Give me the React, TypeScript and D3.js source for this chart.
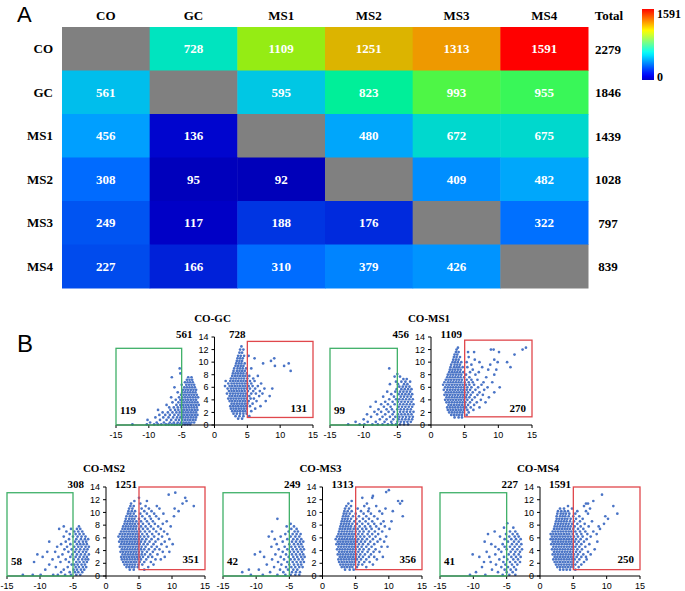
import React from "react";
import * as d3 from "d3";

// ---------- Heatmap data ----------
const GROUPS = ["CO", "GC", "MS1", "MS2", "MS3", "MS4"];
const MATRIX: (number | null)[][] = [
  [null, 728, 1109, 1251, 1313, 1591],
  [561, null, 595, 823, 993, 955],
  [456, 136, null, 480, 672, 675],
  [308, 95, 92, null, 409, 482],
  [249, 117, 188, 176, null, 322],
  [227, 166, 310, 379, 426, null],
];
const TOTALS = [2279, 1846, 1439, 1028, 797, 839];
const COLOR_MIN = 0;
const COLOR_MAX = 1591;
const COLOR_STOPS = [0, 130, 200, 300, 460, 580, 730, 830, 970, 1110, 1250, 1320, 1591];
const COLOR_RANGE = ["#000090", "#0000cc", "#0040e6", "#0068ff", "#00a0ff", "#00c4e8", "#00e4be", "#00f096", "#40f850", "#96ec14", "#dcb400", "#f09600", "#ff0000"];

// ---------- Volcano panels ----------
const PANEL_TITLES = ["CO-GC", "CO-MS1", "CO-MS2", "CO-MS3", "CO-MS4"];
const DOWN_TOTAL = [561, 456, 308, 249, 227];
const UP_TOTAL = [728, 1109, 1251, 1313, 1591];
const DOWN_SIG = [119, 99, 58, 42, 41];
const UP_SIG = [131, 270, 351, 356, 250];
const GREEN_TOP = [12.2, 12.2, 13.1, 13.1, 13.1];
const RED_BOTTOM = [1.2, 1.3, 1.0, 1.0, 1.0];
const RED_TOP = [13.3, 13.5, 14.0, 14.0, 14.0];
const X_TICKS = [-15, -10, -5, 0, 5, 10, 15];
const Y_TICKS = [0, 2, 4, 6, 8, 10, 12, 14];

type Row = [number, number[]];

const GC_DOWN: Row[] = [
  [0.1, [-12.5, -10.3, -9.2, -8.6, -8.1, -7.4, -7.0, -6.5, -6.1, -5.7, -5.3, -4.9, -4.5, -4.1, -3.7]],
  [0.4, [-9.8, -8.8, -7.7, -6.8, -6.2, -5.6, -5.1, -4.7, -4.3, -3.9, -3.5, -3.1]],
  [0.8, [-10.2, -8.3, -7.3, -6.6, -5.9, -5.4, -4.9, -4.5, -4.1, -3.7, -3.3, -2.9]],
  [1.2, [-9.0, -7.8, -7.0, -6.3, -5.7, -5.2, -4.8, -4.4, -4.0, -3.6, -3.2, -2.8]],
  [1.6, [-8.4, -7.5, -6.8, -6.1, -5.5, -5.0, -4.6, -4.2, -3.8, -3.4, -3.0, -2.6]],
  [2.0, [-7.9, -7.1, -6.4, -5.8, -5.3, -4.8, -4.4, -4.0, -3.6, -3.2, -2.8]],
  [2.4, [-8.6, -6.7, -6.0, -5.5, -5.0, -4.6, -4.2, -3.8, -3.4, -3.0, -2.6]],
  [2.8, [-6.9, -6.2, -5.6, -5.1, -4.7, -4.3, -3.9, -3.5, -3.1, -2.7]],
  [3.2, [-7.3, -5.8, -5.2, -4.8, -4.4, -4.0, -3.6, -3.2, -2.8, -2.4]],
  [3.6, [-6.4, -5.5, -5.0, -4.6, -4.2, -3.8, -3.4, -3.0, -2.6]],
  [4.0, [-5.9, -5.2, -4.8, -4.4, -4.0, -3.6, -3.2, -2.8]],
  [4.4, [-6.6, -5.4, -4.9, -4.5, -4.1, -3.7, -3.3, -2.9, -2.5]],
  [4.8, [-5.1, -4.7, -4.3, -3.9, -3.5, -3.1, -2.7]],
  [5.2, [-5.6, -4.9, -4.5, -4.1, -3.7, -3.3, -2.9]],
  [5.6, [-4.8, -4.4, -4.0, -3.6, -3.2, -2.8]],
  [6.0, [-6.1, -4.6, -4.2, -3.8, -3.4, -3.0]],
  [6.4, [-5.0, -4.3, -3.9, -3.5, -3.1]],
  [6.8, [-4.5, -4.1, -3.7, -3.3]],
  [7.2, [-4.2, -3.8, -3.4]],
  [7.6, [-6.5, -4.0, -3.5]],
  [8.2, [-5.2]],
  [9.0, [-5.3]],
];
const GC_UP: Row[] = [
  [1.0, [3.6, 4.2]],
  [1.4, [3.2, 3.8, 4.4, 5.3]],
  [1.8, [2.9, 3.4, 3.9, 4.4, 4.9]],
  [2.2, [2.7, 3.1, 3.5, 3.9, 4.3, 4.7, 5.6]],
  [2.6, [2.5, 2.9, 3.3, 3.7, 4.1, 4.5, 4.9, 6.2]],
  [3.0, [2.4, 2.8, 3.2, 3.6, 4.0, 4.4, 4.8, 5.4, 7.0]],
  [3.4, [2.6, 3.0, 3.4, 3.8, 4.2, 4.6, 5.0, 5.8]],
  [3.8, [2.3, 2.7, 3.1, 3.5, 3.9, 4.3, 4.7, 5.2, 6.4, 7.8]],
  [4.2, [2.1, 2.5, 2.9, 3.3, 3.7, 4.1, 4.5, 4.9, 5.5, 6.0]],
  [4.6, [2.3, 2.7, 3.1, 3.5, 3.9, 4.3, 4.7, 5.3, 6.8, 8.4]],
  [5.0, [1.9, 2.4, 2.8, 3.2, 3.6, 4.0, 4.4, 4.8, 5.6, 6.3, 7.3]],
  [5.4, [2.2, 2.6, 3.0, 3.4, 3.8, 4.2, 4.6, 5.1, 5.9, 6.9]],
  [5.8, [2.0, 2.5, 2.9, 3.3, 3.7, 4.1, 4.5, 4.9, 5.4, 6.2, 7.6, 8.8]],
  [6.2, [1.6, 2.3, 2.7, 3.1, 3.5, 3.9, 4.3, 4.7, 5.2, 5.8, 6.6]],
  [6.6, [2.1, 2.6, 3.0, 3.4, 3.8, 4.2, 4.6, 5.0, 5.6, 7.1]],
  [7.0, [1.7, 2.4, 2.8, 3.2, 3.6, 4.0, 4.4, 4.8, 5.4, 6.1]],
  [7.4, [2.5, 2.9, 3.3, 3.7, 4.1, 4.5, 5.0, 5.9]],
  [7.8, [2.7, 3.1, 3.5, 3.9, 4.3, 4.7, 5.3, 6.6]],
  [8.2, [2.8, 3.2, 3.6, 4.0, 4.4, 4.9]],
  [8.6, [2.9, 3.4, 3.8, 4.2, 4.6, 11.6]],
  [9.0, [3.0, 3.5, 3.9, 4.3, 4.8, 5.6]],
  [9.4, [3.2, 3.6, 4.0, 4.4, 9.2, 10.6]],
  [9.8, [3.3, 3.7, 4.1, 4.6, 7.4, 11.3]],
  [10.2, [3.4, 3.8, 4.2, 8.6]],
  [10.6, [3.5, 3.9, 4.3, 6.1, 9.1]],
  [11.0, [3.6, 4.0, 4.5, 5.2]],
  [11.5, [3.8, 4.2]],
  [12.0, [3.9, 4.4]],
  [12.5, [4.1]],
];

const MS1_DOWN: Row[] = [
  [0.1, [-12.3, -10.6, -9.9, -8.7, -7.9, -7.2, -6.4, -5.8, -5.2, -4.6, -4.0, -3.4]],
  [0.5, [-11.2, -9.4, -8.2, -6.9, -5.9, -5.0, -4.5, -4.0, -3.5, -3.0]],
  [0.9, [-10.0, -7.6, -6.6, -5.6, -4.8, -4.3, -3.8, -3.3, -2.8]],
  [1.3, [-8.9, -7.2, -6.1, -5.3, -4.7, -4.2, -3.7, -3.2, -2.7]],
  [1.7, [-9.5, -8.0, -6.8, -5.7, -4.9, -4.4, -3.9, -3.4, -2.9]],
  [2.1, [-8.4, -7.4, -6.3, -5.5, -4.6, -4.1, -3.6, -3.1, -2.6]],
  [2.5, [-7.8, -6.6, -5.8, -5.0, -4.5, -4.0, -3.5, -3.0]],
  [2.9, [-9.0, -7.0, -6.0, -4.8, -4.3, -3.8, -3.3, -2.8]],
  [3.3, [-7.4, -6.4, -5.4, -4.6, -4.1, -3.6, -3.1, -2.6]],
  [3.7, [-8.2, -6.8, -5.7, -4.9, -4.4, -3.9, -3.4, -2.9]],
  [4.1, [-6.2, -5.2, -4.7, -4.2, -3.7, -3.2, -2.7]],
  [4.5, [-7.1, -5.5, -4.5, -4.0, -3.5, -3.0]],
  [4.9, [-5.9, -4.8, -4.3, -3.8, -3.3, -2.8]],
  [5.3, [-6.5, -5.3, -4.6, -4.1, -3.6, -3.1]],
  [5.7, [-5.1, -4.4, -3.9, -3.4, -2.9]],
  [6.1, [-4.7, -4.2, -3.7, -3.2]],
  [6.5, [-6.1, -4.9, -4.0, -3.5]],
  [6.9, [-5.2, -4.4, -3.8, -3.1]],
  [7.3, [-4.1, -3.6]],
  [7.7, [-5.4, -4.6]],
  [8.1, [-5.0]],
  [9.0, [-6.2]],
];
const MS1_UP: Row[] = [
  [1.2, [3.5, 4.1, 4.6]],
  [1.6, [3.0, 3.4, 3.8, 4.2, 4.6, 5.3]],
  [2.0, [2.7, 3.1, 3.5, 3.9, 4.3, 4.7, 5.6]],
  [2.4, [2.5, 2.9, 3.3, 3.7, 4.1, 4.5, 4.9, 5.4, 6.3]],
  [2.8, [2.4, 2.8, 3.2, 3.6, 4.0, 4.4, 4.8, 5.2, 5.9, 7.2]],
  [3.2, [2.6, 3.0, 3.4, 3.8, 4.2, 4.6, 5.0, 5.5, 6.4]],
  [3.6, [2.3, 2.7, 3.1, 3.5, 3.9, 4.3, 4.7, 5.1, 5.8, 6.8, 8.1]],
  [4.0, [2.1, 2.5, 2.9, 3.3, 3.7, 4.1, 4.5, 4.9, 5.4, 6.1, 7.4]],
  [4.4, [2.3, 2.7, 3.1, 3.5, 3.9, 4.3, 4.7, 5.2, 5.7, 6.5, 8.6]],
  [4.8, [2.0, 2.4, 2.8, 3.2, 3.6, 4.0, 4.4, 4.8, 5.3, 5.9, 6.9, 7.7]],
  [5.2, [2.2, 2.6, 3.0, 3.4, 3.8, 4.2, 4.6, 5.0, 5.5, 6.2, 7.2, 9.4]],
  [5.6, [1.9, 2.4, 2.8, 3.2, 3.6, 4.0, 4.4, 4.8, 5.3, 5.8, 6.6, 7.9]],
  [6.0, [2.1, 2.5, 2.9, 3.3, 3.7, 4.1, 4.5, 4.9, 5.4, 6.0, 7.0, 8.4, 10.2]],
  [6.4, [1.8, 2.3, 2.7, 3.1, 3.5, 3.9, 4.3, 4.7, 5.2, 5.7, 6.4, 7.5]],
  [6.8, [2.0, 2.5, 2.9, 3.3, 3.7, 4.1, 4.5, 5.0, 5.6, 6.2, 7.8, 9.1]],
  [7.2, [2.2, 2.6, 3.0, 3.4, 3.8, 4.2, 4.6, 5.3, 6.0, 6.9]],
  [7.6, [2.4, 2.8, 3.2, 3.6, 4.0, 4.4, 4.9, 5.7, 8.2]],
  [8.0, [2.5, 2.9, 3.3, 3.7, 4.1, 4.5, 5.2, 6.6, 9.4]],
  [8.4, [2.7, 3.1, 3.5, 3.9, 4.3, 4.8, 5.8, 7.1]],
  [8.8, [2.8, 3.2, 3.6, 4.0, 4.4, 6.2, 8.5, 9.7]],
  [9.2, [2.9, 3.4, 3.8, 4.2, 4.7, 5.4, 7.6, 11.8]],
  [9.6, [3.0, 3.5, 3.9, 4.3, 6.0, 8.8]],
  [10.0, [3.2, 3.6, 4.0, 4.5, 5.3, 7.2, 9.9, 11.3]],
  [10.4, [3.3, 3.7, 4.1, 6.5, 9.4]],
  [10.8, [3.4, 3.8, 4.3, 5.6]],
  [11.2, [3.5, 3.9, 12.4]],
  [11.6, [3.7, 4.1, 5.5, 6.4, 10.1]],
  [12.0, [3.8, 8.9, 9.3, 13.6]],
  [12.3, [4.0, 14.1]],
];

const MS2_DOWN: Row[] = [
  [0.2, [-12.6, -11.1, -9.9, -8.0, -7.3, -6.2, -5.3, -4.5, -3.9]],
  [0.6, [-6.8, -5.5, -4.7, -4.2, -3.6]],
  [1.0, [-9.2, -6.4, -4.9, -4.4, -3.8, -3.3]],
  [1.4, [-7.6, -5.8, -4.6, -4.1, -3.5, -3.0]],
  [1.8, [-8.6, -5.2, -4.8, -4.3, -3.7, -3.2]],
  [2.2, [-10.9, -6.9, -5.6, -4.5, -4.0, -3.4, -2.9]],
  [2.6, [-8.1, -6.1, -4.9, -4.2, -3.6, -3.1, -2.7]],
  [3.0, [-9.6, -7.2, -5.4, -4.6, -4.0, -3.4, -2.9]],
  [3.4, [-10.4, -6.6, -5.1, -4.4, -3.8, -3.2, -2.6]],
  [3.8, [-8.9, -7.7, -5.7, -4.7, -4.1, -3.5, -3.0]],
  [4.2, [-6.3, -5.2, -4.5, -3.9, -3.3, -2.8]],
  [4.6, [-7.4, -5.9, -4.8, -4.2, -3.7, -3.1, -2.6]],
  [5.0, [-6.8, -5.4, -4.4, -3.9, -3.4, -2.9]],
  [5.4, [-8.6, -6.1, -4.7, -4.1, -3.5, -3.0]],
  [5.8, [-5.6, -4.5, -3.8, -3.2, -2.7]],
  [6.2, [-6.4, -5.0, -4.3, -3.7, -3.1]],
  [6.6, [-5.5, -4.6, -4.0, -3.4]],
  [7.0, [-6.0, -4.8, -4.2, -3.6]],
  [7.4, [-7.1, -5.3, -4.4, -3.9]],
  [7.8, [-6.4, -4.1]],
];
const MS2_UP: Row[] = [
  [1.0, [3.6, 4.2, 5.8]],
  [1.4, [3.1, 3.5, 3.9, 4.3, 4.8, 6.4]],
  [1.8, [2.8, 3.2, 3.6, 4.0, 4.4, 4.9, 5.5, 7.2]],
  [2.2, [2.6, 3.0, 3.4, 3.8, 4.2, 4.6, 5.1, 5.8, 6.8]],
  [2.6, [2.4, 2.8, 3.2, 3.6, 4.0, 4.4, 4.8, 5.3, 6.1, 7.5, 8.3]],
  [3.0, [2.3, 2.7, 3.1, 3.5, 3.9, 4.3, 4.7, 5.1, 5.6, 6.4, 7.0, 8.9]],
  [3.4, [2.5, 2.9, 3.3, 3.7, 4.1, 4.5, 4.9, 5.4, 5.9, 6.7, 7.8]],
  [3.8, [2.2, 2.6, 3.0, 3.4, 3.8, 4.2, 4.6, 5.0, 5.5, 6.2, 7.1, 8.6, 9.6]],
  [4.2, [2.4, 2.8, 3.2, 3.6, 4.0, 4.4, 4.8, 5.3, 5.8, 6.5, 7.4, 8.1]],
  [4.6, [2.1, 2.5, 2.9, 3.3, 3.7, 4.1, 4.5, 4.9, 5.4, 6.0, 6.9, 7.7, 9.2]],
  [5.0, [2.3, 2.7, 3.1, 3.5, 3.9, 4.3, 4.7, 5.1, 5.7, 6.3, 7.2, 8.4, 10.1]],
  [5.4, [2.0, 2.4, 2.8, 3.2, 3.6, 4.0, 4.4, 4.8, 5.3, 5.9, 6.6, 7.5, 8.9]],
  [5.8, [2.2, 2.6, 3.0, 3.4, 3.8, 4.2, 4.6, 5.0, 5.5, 6.1, 6.9, 7.9, 9.6]],
  [6.2, [1.9, 2.4, 2.8, 3.2, 3.6, 4.0, 4.4, 4.8, 5.2, 5.8, 6.4, 7.3, 8.5]],
  [6.6, [2.1, 2.5, 2.9, 3.3, 3.7, 4.1, 4.5, 4.9, 5.5, 6.2, 7.0, 8.0, 9.3]],
  [7.0, [2.3, 2.7, 3.1, 3.5, 3.9, 4.3, 4.7, 5.2, 5.9, 6.6, 7.6, 8.8]],
  [7.4, [2.5, 2.9, 3.3, 3.7, 4.1, 4.5, 5.0, 5.6, 6.3, 7.2, 8.3]],
  [7.8, [2.6, 3.0, 3.4, 3.8, 4.2, 4.6, 5.3, 6.0, 6.8, 7.9, 9.8]],
  [8.2, [2.8, 3.2, 3.6, 4.0, 4.4, 4.9, 5.6, 6.5, 7.4, 8.6]],
  [8.6, [2.9, 3.3, 3.7, 4.1, 4.6, 5.3, 6.2, 7.1, 9.2]],
  [9.0, [3.0, 3.5, 3.9, 4.3, 5.0, 5.9, 6.8, 8.0]],
  [9.4, [3.1, 3.6, 4.0, 4.5, 5.5, 6.6, 7.6, 10.3]],
  [9.8, [3.3, 3.7, 4.2, 5.2, 6.2, 7.3, 8.7]],
  [10.2, [3.4, 3.9, 4.4, 5.8, 6.9, 11.0]],
  [10.6, [3.5, 4.0, 5.4, 6.5, 8.1, 10.4]],
  [11.0, [3.7, 4.2, 6.0, 7.7, 13.3]],
  [11.4, [3.8, 5.2, 11.6]],
  [11.8, [4.3, 6.2, 12.2]],
  [12.3, [5.0, 12.0]],
  [12.8, [9.5]],
  [13.1, [10.5]],
];

const MS3_DOWN: Row[] = [
  [0.2, [-10.8, -9.0, -6.8, -5.6, -4.8, -4.1, -3.5]],
  [0.6, [-12.1, -7.9, -5.9, -4.6, -4.0, -3.4]],
  [1.0, [-11.1, -9.6, -6.4, -5.2, -4.4, -3.8]],
  [1.4, [-7.3, -5.5, -4.7, -4.1, -3.5, -3.0]],
  [1.8, [-8.4, -6.2, -5.0, -4.3, -3.7, -3.2]],
  [2.2, [-6.7, -5.3, -4.5, -3.9, -3.3, -2.8]],
  [2.6, [-7.6, -5.8, -4.8, -4.2, -3.6, -3.0]],
  [3.0, [-8.8, -6.3, -5.1, -4.4, -3.8, -3.2, -2.7]],
  [3.4, [-10.2, -7.1, -5.5, -4.6, -4.0, -3.4, -2.9]],
  [3.8, [-9.4, -6.0, -4.9, -4.3, -3.7, -3.1]],
  [4.2, [-6.6, -5.3, -4.5, -3.9, -3.3, -2.8]],
  [4.6, [-7.7, -5.7, -4.7, -4.1, -3.5, -3.0]],
  [5.0, [-6.9, -5.0, -4.3, -3.7, -3.2]],
  [5.4, [-6.0, -4.6, -4.0, -3.4, -2.9]],
  [5.8, [-7.2, -5.3, -4.4, -3.8, -3.2]],
  [6.2, [-8.1, -6.3, -4.8, -4.1, -3.5]],
  [6.6, [-5.6, -4.5, -3.9, -3.3]],
  [7.0, [-7.6, -5.1, -4.2, -3.7]],
  [7.4, [-4.7, -3.9]],
  [7.8, [-5.4, -4.3]],
  [8.2, [-4.8]],
  [9.0, [-6.8]],
];
const MS3_UP: Row[] = [
  [1.0, [3.4, 4.1, 4.7]],
  [1.4, [2.9, 3.3, 3.7, 4.1, 4.5, 5.2, 6.6]],
  [1.8, [2.7, 3.1, 3.5, 3.9, 4.3, 4.7, 5.4, 6.0, 7.6]],
  [2.2, [2.5, 2.9, 3.3, 3.7, 4.1, 4.5, 4.9, 5.5, 6.3, 7.1]],
  [2.6, [2.4, 2.8, 3.2, 3.6, 4.0, 4.4, 4.8, 5.2, 5.8, 6.6, 8.2]],
  [3.0, [2.6, 3.0, 3.4, 3.8, 4.2, 4.6, 5.0, 5.5, 6.1, 7.0, 7.8, 9.1]],
  [3.4, [2.3, 2.7, 3.1, 3.5, 3.9, 4.3, 4.7, 5.1, 5.7, 6.4, 7.3]],
  [3.8, [2.5, 2.9, 3.3, 3.7, 4.1, 4.5, 4.9, 5.4, 6.0, 6.8, 7.7, 8.6]],
  [4.2, [2.2, 2.6, 3.0, 3.4, 3.8, 4.2, 4.6, 5.0, 5.6, 6.2, 7.0, 8.0]],
  [4.6, [2.4, 2.8, 3.2, 3.6, 4.0, 4.4, 4.8, 5.3, 5.9, 6.6, 7.4, 8.9, 9.8]],
  [5.0, [2.1, 2.5, 2.9, 3.3, 3.7, 4.1, 4.5, 4.9, 5.5, 6.1, 6.9, 7.8]],
  [5.4, [2.3, 2.7, 3.1, 3.5, 3.9, 4.3, 4.7, 5.2, 5.8, 6.4, 7.2, 8.3, 9.3]],
  [5.8, [2.0, 2.5, 2.9, 3.3, 3.7, 4.1, 4.5, 4.9, 5.4, 6.0, 6.7, 7.6, 8.7]],
  [6.2, [2.2, 2.6, 3.0, 3.4, 3.8, 4.2, 4.6, 5.1, 5.7, 6.3, 7.1, 8.0, 9.6]],
  [6.6, [2.4, 2.8, 3.2, 3.6, 4.0, 4.4, 4.8, 5.4, 6.0, 6.8, 7.5, 8.4]],
  [7.0, [2.5, 2.9, 3.3, 3.7, 4.1, 4.5, 5.0, 5.6, 6.2, 7.0, 7.9, 9.0]],
  [7.4, [2.6, 3.0, 3.4, 3.8, 4.2, 4.7, 5.3, 6.0, 6.6, 7.4, 8.5, 10.1]],
  [7.8, [2.7, 3.1, 3.5, 3.9, 4.3, 4.9, 5.6, 6.4, 7.2, 8.1, 9.4]],
  [8.2, [2.8, 3.2, 3.6, 4.0, 4.5, 5.2, 6.0, 6.9, 7.8, 8.8]],
  [8.6, [2.9, 3.3, 3.7, 4.1, 4.8, 5.6, 6.5, 7.5, 9.2, 10.4]],
  [9.0, [3.0, 3.4, 3.8, 4.3, 5.1, 6.1, 7.0, 8.3]],
  [9.4, [3.1, 3.5, 3.9, 4.6, 5.5, 6.6, 7.8, 12.1]],
  [9.8, [3.2, 3.6, 4.1, 5.0, 6.2, 7.3, 9.0]],
  [10.2, [3.3, 3.8, 4.4, 5.8, 6.9, 8.6, 10.6]],
  [10.6, [3.4, 4.0, 5.3, 7.0, 9.5]],
  [11.0, [3.6, 4.3, 6.3, 8.1]],
  [11.4, [3.9, 6.7, 11.7]],
  [11.8, [4.4, 11.4, 12.0]],
  [12.3, [6.0, 7.5]],
  [12.6, [7.6]],
  [13.2, [9.6]],
  [13.5, [10.0]],
];

const MS4_DOWN: Row[] = [
  [0.2, [-10.5, -8.2, -5.6, -4.6, -3.7]],
  [0.6, [-9.6, -6.3, -5.0, -4.1]],
  [1.0, [-7.2, -5.3, -4.4, -3.6]],
  [1.4, [-8.7, -5.8, -4.8, -3.9]],
  [1.8, [-6.6, -5.2, -4.2, -3.4]],
  [2.2, [-8.4, -7.4, -5.5, -4.5, -3.7, -3.0]],
  [2.6, [-6.1, -4.9, -4.0, -3.3]],
  [3.0, [-9.1, -7.6, -5.4, -4.3, -3.6, -2.9]],
  [3.4, [-10.1, -6.7, -4.7, -3.9, -3.2]],
  [3.8, [-8.0, -5.8, -4.4, -3.7, -3.0]],
  [4.2, [-6.2, -5.0, -4.1, -3.4, -2.7]],
  [4.6, [-6.7, -5.3, -4.5, -3.8, -3.1]],
  [5.0, [-7.3, -5.6, -4.2, -3.5, -2.8]],
  [5.4, [-8.3, -4.8, -3.9, -3.2]],
  [5.8, [-5.3, -4.3, -3.6, -2.9]],
  [6.2, [-6.0, -4.6, -3.8, -3.2]],
  [6.6, [-7.8, -5.1, -4.1, -3.4]],
  [7.0, [-6.8, -4.5, -3.7]],
  [7.6, [-5.4, -4.0]],
  [8.3, [-4.9]],
];
const MS4_UP: Row[] = [
  [1.0, [3.0, 3.5, 4.0, 4.5, 5.3]],
  [1.4, [2.6, 3.0, 3.4, 3.8, 4.2, 4.6, 5.0, 5.8]],
  [1.8, [2.4, 2.8, 3.2, 3.6, 4.0, 4.4, 4.8, 5.3, 6.2]],
  [2.2, [2.2, 2.6, 3.0, 3.4, 3.8, 4.2, 4.6, 5.0, 5.6, 6.6]],
  [2.6, [2.0, 2.4, 2.8, 3.2, 3.6, 4.0, 4.4, 4.8, 5.2, 5.9, 7.0]],
  [3.0, [2.2, 2.6, 3.0, 3.4, 3.8, 4.2, 4.6, 5.0, 5.5, 6.2, 6.9]],
  [3.4, [1.9, 2.3, 2.7, 3.1, 3.5, 3.9, 4.3, 4.7, 5.1, 5.7, 6.5, 7.6]],
  [3.8, [2.1, 2.5, 2.9, 3.3, 3.7, 4.1, 4.5, 4.9, 5.4, 6.0, 7.2]],
  [4.2, [1.8, 2.2, 2.6, 3.0, 3.4, 3.8, 4.2, 4.6, 5.0, 5.6, 6.3, 8.2]],
  [4.6, [2.0, 2.4, 2.8, 3.2, 3.6, 4.0, 4.4, 4.8, 5.3, 5.9, 6.8]],
  [5.0, [1.7, 2.1, 2.5, 2.9, 3.3, 3.7, 4.1, 4.5, 4.9, 5.5, 6.2, 7.4]],
  [5.4, [1.9, 2.3, 2.7, 3.1, 3.5, 3.9, 4.3, 4.7, 5.2, 5.8, 6.6, 8.6]],
  [5.8, [1.6, 2.0, 2.4, 2.8, 3.2, 3.6, 4.0, 4.4, 4.8, 5.4, 6.1, 7.0]],
  [6.2, [1.8, 2.2, 2.6, 3.0, 3.4, 3.8, 4.2, 4.6, 5.1, 5.7, 6.4, 7.6]],
  [6.6, [1.6, 2.0, 2.4, 2.8, 3.2, 3.6, 4.0, 4.4, 4.9, 5.5, 6.2, 7.1, 8.5]],
  [7.0, [1.9, 2.3, 2.7, 3.1, 3.5, 3.9, 4.3, 4.7, 5.3, 6.0, 6.8, 8.0]],
  [7.4, [2.1, 2.5, 2.9, 3.3, 3.7, 4.1, 4.5, 5.0, 5.7, 6.5, 9.0]],
  [7.8, [2.2, 2.6, 3.0, 3.4, 3.8, 4.2, 4.6, 5.2, 6.1, 7.3, 8.8]],
  [8.2, [2.3, 2.7, 3.1, 3.5, 3.9, 4.3, 4.8, 5.6, 6.7, 9.6]],
  [8.6, [2.4, 2.8, 3.2, 3.6, 4.0, 4.5, 5.1, 6.0, 7.8]],
  [9.0, [2.5, 2.9, 3.3, 3.7, 4.1, 4.6, 5.4, 6.4, 10.2]],
  [9.4, [2.5, 3.0, 3.4, 3.8, 4.3, 5.0, 5.9, 9.8]],
  [9.8, [2.6, 3.1, 3.5, 3.9, 4.4, 5.3, 7.2, 11.6]],
  [10.2, [2.7, 3.2, 3.7, 4.2, 5.6, 6.9]],
  [10.6, [3.0, 3.6, 4.8, 7.5]],
  [11.0, [4.2, 6.6, 11.0]],
  [11.4, [6.9, 7.2]],
  [11.8, [8.0]],
  [12.8, [9.3]],
];

const DOWN_ROWS = [GC_DOWN, MS1_DOWN, MS2_DOWN, MS3_DOWN, MS4_DOWN];
const UP_ROWS = [GC_UP, MS1_UP, MS2_UP, MS3_UP, MS4_UP];

// ---------- Layout (pixels) ----------
const W = 685;
const H = 591;
const HEAT = { left: 62, right: 588, top: 27, bottom: 288 };
const PANELS = [
  { x0: 116, x1: 313, yb: 425, yt: 337 },
  { x0: 330, x1: 532, yb: 425, yt: 337 },
  { x0: 7, x1: 205, yb: 576, yt: 487 },
  { x0: 223, x1: 422, yb: 576, yt: 487 },
  { x0: 440, x1: 640, yb: 576, yt: 487 },
];
const SERIF = "'Liberation Serif', 'Times New Roman', serif";
const SANS = "'Liberation Sans', Arial, sans-serif";
const POINT_COLOR = "#4a74c6";
const GREEN = "#3fb068";
const RED = "#e0474c";

const toPoints = (rows: Row[]) => rows.flatMap(([y, xs]) => xs.map((x) => [x, y] as [number, number]));

function Heatmap() {
  const xb = d3.scaleBand<string>().domain(GROUPS).range([HEAT.left, HEAT.right]);
  const yb = d3.scaleBand<string>().domain(GROUPS).range([HEAT.top, HEAT.bottom]);
  const color = d3.scaleLinear<string>().domain(COLOR_STOPS).range(COLOR_RANGE).clamp(true);
  const cb = { x: 642, y: 9, w: 12, h: 71 };
  const cbScale = d3.scaleLinear().domain([COLOR_MIN, COLOR_MAX]).range([cb.y + cb.h, cb.y]);
  const gradStops = d3.range(0, 1.0001, 0.05).map((t) => t);
  const jet = (t: number) => {
    const r = Math.max(0, Math.min(1, Math.min(4 * t - 1.5, -4 * t + 4.5)));
    const g = Math.max(0, Math.min(1, Math.min(4 * t - 0.5, -4 * t + 3.5)));
    const b = Math.max(0, Math.min(1, Math.min(4 * t + 0.5, -4 * t + 2.5)));
    return d3.rgb(r * 255, g * 255, b * 255).formatHex();
  };
  const jetT = (t: number) => jet(0.07 + t * 0.8);
  return (
    <g>
      <text x={17} y={22} fontFamily={SANS} fontSize={22}>A</text>
      {GROUPS.map((gname) => (
        <text key={"c" + gname} x={xb(gname)! + xb.bandwidth() / 2} y={20} textAnchor="middle" fontFamily={SERIF} fontWeight="bold" fontSize={13}>{gname}</text>
      ))}
      <text x={609} y={20} textAnchor="middle" fontFamily={SERIF} fontWeight="bold" fontSize={13}>Total</text>
      {GROUPS.map((rname, i) => (
        <g key={"r" + rname}>
          <text x={53} y={yb(rname)! + yb.bandwidth() / 2 + 4.5} textAnchor="end" fontFamily={SERIF} fontWeight="bold" fontSize={13}>{rname}</text>
          {GROUPS.map((cname, j) => {
            const v = MATRIX[i][j];
            return (
              <g key={cname}>
                <rect x={xb(cname)!} y={yb(rname)!} width={xb.bandwidth() + 0.5} height={yb.bandwidth() + 0.5} fill={v == null ? "#808080" : color(v)} />
                {v != null && (
                  <text x={xb(cname)! + xb.bandwidth() / 2} y={yb(rname)! + yb.bandwidth() / 2 + 4.5} textAnchor="middle" fill="#ffffff" fontFamily={SERIF} fontWeight="bold" fontSize={13}>{v}</text>
                )}
              </g>
            );
          })}
          <text x={608} y={yb(rname)! + yb.bandwidth() / 2 + 5} textAnchor="middle" fontFamily={SERIF} fontWeight="bold" fontSize={13}>{TOTALS[i]}</text>
        </g>
      ))}
      <defs>
        <linearGradient id="jetGrad" x1="0" y1="1" x2="0" y2="0">
          {gradStops.map((t) => (
            <stop key={t} offset={t} stopColor={jetT(t)} />
          ))}
        </linearGradient>
      </defs>
      <rect x={cb.x} y={cbScale(COLOR_MAX)} width={cb.w} height={cbScale(COLOR_MIN) - cbScale(COLOR_MAX)} fill="url(#jetGrad)" />
      <text x={657} y={cbScale(COLOR_MAX) + 9} fontFamily={SERIF} fontWeight="bold" fontSize={12}>{COLOR_MAX}</text>
      <text x={657} y={cbScale(COLOR_MIN) + 1} fontFamily={SERIF} fontWeight="bold" fontSize={12}>{COLOR_MIN}</text>
    </g>
  );
}

function Volcano({ idx }: { idx: number }) {
  const p = PANELS[idx];
  const x = d3.scaleLinear().domain([-15, 15]).range([p.x0, p.x1]);
  const y = d3.scaleLinear().domain([0, 14]).range([p.yb, p.yt]);
  const pts = [...toPoints(DOWN_ROWS[idx]), ...toPoints(UP_ROWS[idx])];
  const ax = x(0);
  return (
    <g>
      <text x={ax - 2} y={y(14) - 15} textAnchor="middle" fontFamily={SERIF} fontWeight="bold" fontSize={11}>{PANEL_TITLES[idx]}</text>
      {pts.map(([px, py], k) => (
        <circle key={k} cx={x(px)} cy={y(py)} r={1.35} fill={POINT_COLOR} />
      ))}
      {/* axes */}
      <line x1={x(-15)} x2={x(15)} y1={y(0)} y2={y(0)} stroke="#000" strokeWidth={1} />
      <line x1={ax} x2={ax} y1={y(0)} y2={y(14)} stroke="#000" strokeWidth={1} />
      {X_TICKS.map((t) => (
        <g key={"x" + t}>
          <line x1={x(t)} x2={x(t)} y1={y(0)} y2={y(0) + 3} stroke="#000" />
          <text x={x(t)} y={y(0) + 13} textAnchor="middle" fontFamily={SANS} fontSize={9}>{t}</text>
        </g>
      ))}
      {Y_TICKS.map((t) => (
        <g key={"y" + t}>
          <line x1={ax - 3} x2={ax} y1={y(t)} y2={y(t)} stroke="#000" />
          <text x={ax - 6} y={y(t) + 3.2} textAnchor="end" fontFamily={SANS} fontSize={9}>{t}</text>
        </g>
      ))}
      {/* threshold boxes */}
      <rect x={x(-15)} y={y(GREEN_TOP[idx])} width={x(-5) - x(-15)} height={y(0) - y(GREEN_TOP[idx])} fill="none" stroke={GREEN} strokeWidth={1.3} />
      <rect x={x(5)} y={y(RED_TOP[idx])} width={x(15) - x(5)} height={y(RED_BOTTOM[idx]) - y(RED_TOP[idx])} fill="none" stroke={RED} strokeWidth={1.3} />
      {/* counts */}
      <text x={ax - 22} y={y(14) + 1} textAnchor="end" fontFamily={SERIF} fontWeight="bold" fontSize={11}>{DOWN_TOTAL[idx]}</text>
      <text x={ax + 31} y={y(14) + 1} textAnchor="end" fontFamily={SERIF} fontWeight="bold" fontSize={11}>{UP_TOTAL[idx]}</text>
      <text x={x(-15) + 4} y={y(0) - 11} fontFamily={SERIF} fontWeight="bold" fontSize={11}>{DOWN_SIG[idx]}</text>
      <text x={x(15) - 6} y={y(0) - 13} textAnchor="end" fontFamily={SERIF} fontWeight="bold" fontSize={11}>{UP_SIG[idx]}</text>
    </g>
  );
}

export default function App() {
  return (
    <svg width={W} height={H} style={{ position: "absolute", left: 0, top: 0, background: "#fff" }}>
      <rect x={0} y={0} width={W} height={H} fill="#fff" />
      <Heatmap />
      <text x={17} y={352} fontFamily={SANS} fontSize={24}>B</text>
      {PANELS.map((_, i) => (
        <Volcano key={i} idx={i} />
      ))}
    </svg>
  );
}
